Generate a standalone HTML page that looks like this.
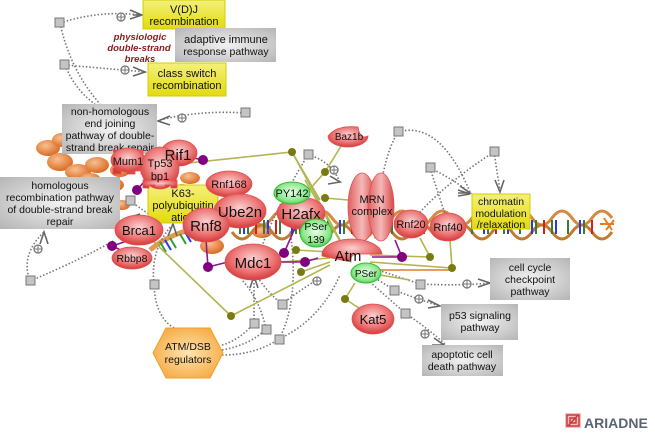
<!DOCTYPE html>
<html><head><meta charset="utf-8">
<style>
html,body{margin:0;padding:0;background:#fff;width:655px;height:438px;overflow:hidden}
svg{display:block}
text{font-family:"Liberation Sans",sans-serif;fill:#111}
</style></head><body>
<svg width="655" height="438" viewBox="0 0 655 438" xmlns="http://www.w3.org/2000/svg">
<defs>
<radialGradient id="rg" cx="50%" cy="40%" r="60%"><stop offset="0" stop-color="#fbd0d0"/><stop offset="0.6" stop-color="#ec7878"/><stop offset="1" stop-color="#d63a3a"/></radialGradient>
<linearGradient id="rl" x1="0" y1="0" x2="1" y2="0"><stop offset="0" stop-color="#e06060"/><stop offset="0.5" stop-color="#f6b8b8"/><stop offset="1" stop-color="#d84848"/></linearGradient>
<radialGradient id="gg" cx="50%" cy="45%" r="60%"><stop offset="0" stop-color="#e8ffe8"/><stop offset="0.7" stop-color="#8ae68a"/><stop offset="1" stop-color="#3cc03c"/></radialGradient>
<radialGradient id="bg" cx="50%" cy="50%" r="70%"><stop offset="0" stop-color="#f2f2f2"/><stop offset="1" stop-color="#b5b5b5"/></radialGradient>
<linearGradient id="yg" x1="0" y1="0" x2="0" y2="1"><stop offset="0" stop-color="#f4f07a"/><stop offset="1" stop-color="#e2da10"/></linearGradient>
<radialGradient id="og" cx="50%" cy="50%" r="60%"><stop offset="0" stop-color="#fde4b0"/><stop offset="1" stop-color="#f6a840"/></radialGradient>
<radialGradient id="ob" cx="40%" cy="35%" r="70%"><stop offset="0" stop-color="#f8c090"/><stop offset="1" stop-color="#d9651c"/></radialGradient>
</defs>

<!-- orange blobs -->
<g fill="url(#ob)">
<ellipse cx="48" cy="148" rx="12" ry="8"/><ellipse cx="60" cy="162" rx="13" ry="9"/><ellipse cx="78" cy="172" rx="13" ry="8"/>
<ellipse cx="97" cy="165" rx="12" ry="8"/><ellipse cx="62" cy="140" rx="10" ry="7"/><ellipse cx="90" cy="180" rx="11" ry="7"/>
<ellipse cx="112" cy="185" rx="12" ry="7"/><ellipse cx="120" cy="170" rx="10" ry="7"/><ellipse cx="190" cy="178" rx="10" ry="6"/>
<ellipse cx="182" cy="190" rx="9" ry="6"/><ellipse cx="122" cy="205" rx="8" ry="5"/><ellipse cx="262" cy="232" rx="10" ry="6"/>
<ellipse cx="255" cy="217" rx="8" ry="5"/><ellipse cx="212" cy="246" rx="12" ry="8"/>
</g>

<!-- DNA helix -->
<g fill="none" stroke-width="3" stroke="#d48a40">
<path d="M232,218 q10,-14 20,0 t20,0 t20,0 t20,0 t20,0 t20,0 t20,0 t20,0 t20,0 t20,0 t20,0 t20,0 t20,0 t20,0 t20,0 t20,0 t20,0 t20,0 t20,0"/>
<path d="M232,232 q10,14 20,0 t20,0 t20,0 t20,0 t20,0 t20,0 t20,0 t20,0 t20,0 t20,0 t20,0 t20,0 t20,0 t20,0 t20,0 t20,0 t20,0 t20,0 t20,0" stroke="#c27a30"/>
<path d="M150,250 q30,-25 80,-25" stroke="#e09a50" stroke-width="5"/>
<path d="M370,270 L455,270" stroke="#e0a060" stroke-width="2"/>
</g>
<g stroke-width="2">
<path d="M240,220v14M248,220v14M264,220v14M280,220v14M296,220v14M312,220v14M328,220v14M344,220v14M360,220v14M376,220v14M392,220v14M408,220v14M424,220v14M440,220v14M456,220v14M472,220v14M488,220v14M504,220v14M520,220v14M536,220v14M552,220v14M568,220v14M584,220v14" stroke="#3a7a3a"/>
<path d="M244,220v14M268,220v14M292,220v14M316,220v14M340,220v14M364,220v14M388,220v14M412,220v14M436,220v14M460,220v14M484,220v14M508,220v14M532,220v14M556,220v14M580,220v14" stroke="#2a3ae0"/>
<path d="M256,220v14M276,220v14M300,220v14M324,220v14M352,220v14M400,220v14M448,220v14M496,220v14M544,220v14M592,220v14" stroke="#d02020"/>
<path d="M160,242l6,10M170,238l6,10M180,234l6,10M190,231l6,10M200,229l6,10M210,227l6,10" stroke="#30a030"/>
<path d="M165,240l6,10M185,232l6,10M205,228l6,10" stroke="#2a3ae0"/>
</g>
<path d="M600,224 l14,0 M604,218 l8,12 M606,230l8,-10" stroke="#e08020" stroke-width="2"/>

<!-- dotted connectors -->
<g fill="none" stroke="#777" stroke-width="1.6" stroke-dasharray="1.5 2">
<path d="M60,23 Q100,10 140,15"/><path d="M60,23 Q70,70 100,104"/>
<path d="M65,65 Q100,68 146,72"/><path d="M65,65 Q75,90 95,104"/>
<path d="M245,113 Q200,110 160,120"/>
<path d="M30,281 Q20,255 44,232"/><path d="M30,281 Q80,260 115,240"/>
<path d="M130,201 L150,215"/>
<path d="M154,284 Q150,250 172,225"/><path d="M154,284 Q155,320 178,330"/>
<path d="M308,155 Q330,160 340,182"/><path d="M308,155 Q280,200 262,246"/>
<path d="M398,132 Q440,120 470,192"/><path d="M398,132 Q380,160 375,240"/>
<path d="M430,168 Q455,180 470,193"/><path d="M430,168 L445,214"/>
<path d="M494,152 L500,191"/><path d="M494,152 Q450,180 420,212"/>
<path d="M420,284 Q460,286 490,283"/><path d="M420,284 L372,268"/>
<path d="M394,290 Q420,300 440,306"/><path d="M394,290 L372,276"/>
<path d="M405,313 Q430,330 445,344"/><path d="M405,313 L370,282"/>
<path d="M254,323 L254,277"/><path d="M222,345 Q240,340 254,323"/>
<path d="M266,329 Q260,300 242,280"/><path d="M222,350 Q250,345 266,329"/>
<path d="M279,339 Q300,300 290,230"/><path d="M222,355 Q255,355 279,339"/>
<path d="M282,304 Q300,290 320,278"/><path d="M282,304 Q270,295 258,278"/>
<path d="M279,339 Q320,320 340,275"/>
</g>
<g fill="none" stroke="#666" stroke-width="1.6">
<path d="M130,10 l12,5 l-12,4 M133,15h9"/><path d="M133,67 l12,5 l-12,4"/>
<path d="M170,116 l-12,5 l12,4"/><path d="M40,244 l4,-12 l4,12"/>
<path d="M168,236 l5,-12 l4,12"/><path d="M250,288 l4,-12 l4,12"/>
<path d="M330,176 l10,6 l-12,2"/><path d="M460,186 l10,7 l-12,0"/>
<path d="M458,190 l12,4 l-12,2"/><path d="M495,180 l5,12 l4,-12"/>
<path d="M478,279 l12,4 l-12,4"/><path d="M428,300 l12,6 l-12,2"/><path d="M434,338 l10,7 l-12,0"/>
</g>
<g fill="#fff" stroke="#777" stroke-width="1.3">
<circle cx="121" cy="17" r="4"/><circle cx="125" cy="70" r="4"/><circle cx="182" cy="118" r="4"/>
<circle cx="38" cy="249" r="4"/><circle cx="334" cy="170" r="4"/><circle cx="467" cy="284" r="4"/>
<circle cx="419" cy="299" r="4"/><circle cx="425" cy="334" r="4"/><circle cx="317" cy="281" r="4"/>
</g>
<g stroke="#777" stroke-width="1">
<path d="M117,17h8M121,13v8M121,70h8M125,66v8M178,118h8M182,114v8M34,249h8M38,245v8M330,170h8M334,166v8M463,284h8M467,280v8M415,299h8M419,295v8M421,334h8M425,330v8M313,281h8M317,277v8"/>
</g>

<!-- olive connectors -->
<g fill="none" stroke="#b4b450" stroke-width="1.6">
<path d="M170,165 L292,152 L340,240"/><path d="M343,143 L325,172 L300,200"/>
<path d="M325,198 L348,200"/><path d="M231,316 L150,238"/><path d="M231,316 L330,265"/>
<path d="M296,250 L330,252"/><path d="M301,272 L330,262"/><path d="M282,262 L330,258"/>
<path d="M370,255 L430,257 L420,238"/><path d="M370,262 L452,268 L450,240"/>
<path d="M345,299 L355,283"/><path d="M345,299 L362,310"/>
<path d="M410,280 L380,275"/><path d="M292,152 L320,200"/><path d="M305,180 L345,250"/>
</g>
<g fill="#7a7a12">
<circle cx="292" cy="152" r="4"/><circle cx="325" cy="172" r="4"/><circle cx="325" cy="198" r="4"/>
<circle cx="231" cy="316" r="4"/><circle cx="296" cy="250" r="4"/><circle cx="301" cy="272" r="4"/>
<circle cx="430" cy="257" r="4"/><circle cx="452" cy="268" r="4"/><circle cx="345" cy="299" r="4"/>
</g>

<!-- purple connectors -->
<g fill="none" stroke="#8a1a8a" stroke-width="1.6">
<path d="M180,155 L203,160"/><path d="M150,175 L137,190"/><path d="M130,240 L112,246 L125,252"/>
<path d="M206,240 L208,267 L228,262"/><path d="M280,262 L305,262 L318,258"/>
<path d="M372,257 L402,257 L395,240"/><path d="M284,253 L295,228"/>
</g>
<g fill="#800080">
<circle cx="203" cy="160" r="5"/><circle cx="137" cy="190" r="5"/><circle cx="112" cy="246" r="5"/>
<circle cx="208" cy="267" r="5"/><circle cx="305" cy="262" r="5"/><circle cx="402" cy="257" r="5"/><circle cx="284" cy="253" r="5"/>
</g>

<g fill="#c4c4c4" stroke="#777" stroke-width="1">
<rect x="55" y="18" width="9" height="9"/><rect x="60" y="60" width="9" height="9"/><rect x="241" y="108" width="9" height="9"/>
<rect x="26" y="276" width="9" height="9"/><rect x="126" y="196" width="9" height="9"/><rect x="150" y="280" width="9" height="9"/>
<rect x="304" y="150" width="9" height="9"/><rect x="394" y="127" width="9" height="9"/><rect x="426" y="163" width="9" height="9"/>
<rect x="490" y="147" width="9" height="9"/><rect x="416" y="280" width="9" height="9"/><rect x="390" y="286" width="9" height="9"/>
<rect x="401" y="309" width="9" height="9"/><rect x="250" y="319" width="9" height="9"/><rect x="262" y="325" width="9" height="9"/>
<rect x="275" y="335" width="9" height="9"/><rect x="278" y="300" width="9" height="9"/>
</g>
<path d="M128,218 l12,-4" stroke="#555" stroke-width="1.5"/>

<!-- boxes -->
<rect x="143" y="0" width="82" height="29" fill="url(#yg)" stroke="#d4cc00"/>
<text x="184" y="13" font-size="11" text-anchor="middle">V(D)J</text><text x="184" y="25" font-size="11" text-anchor="middle">recombination</text>
<rect x="175" y="28" width="101" height="34" fill="url(#bg)"/>
<text x="226" y="43" font-size="11" text-anchor="middle">adaptive immune</text><text x="226" y="55" font-size="10.5" text-anchor="middle">response pathway</text>
<g font-size="9.5" font-weight="bold" font-style="italic" text-anchor="middle"><text x="140" y="40" style="fill:#8b1a1a">physiologic</text><text x="139" y="51" style="fill:#8b1a1a">double-strand</text><text x="140" y="62" style="fill:#8b1a1a">breaks</text></g>
<rect x="148" y="63" width="78" height="33" fill="url(#yg)" stroke="#d4cc00"/>
<text x="187" y="77" font-size="11" text-anchor="middle">class switch</text><text x="187" y="89" font-size="11" text-anchor="middle">recombination</text>
<rect x="62" y="104" width="95" height="50" fill="url(#bg)"/>
<g font-size="10.5" text-anchor="middle"><text x="110" y="115">non-homologous</text><text x="110" y="127">end joining</text><text x="110" y="139">pathway of double-</text><text x="110" y="151">strand break repair</text></g>
<rect x="0" y="177" width="120" height="52" fill="url(#bg)"/>
<g font-size="10.5" text-anchor="middle"><text x="60" y="189">homologous</text><text x="60" y="201">recombination pathway</text><text x="60" y="213">of double-strand break</text><text x="60" y="225">repair</text></g>

<rect x="148" y="185" width="70" height="38" fill="url(#yg)" stroke="#d4cc00"/>
<g font-size="11" text-anchor="middle"><text x="183" y="197">K63-</text><text x="183" y="209">polyubiquitin</text><text x="183" y="221">ation</text></g>

<!-- MRN complex -->
<g fill="url(#rl)" stroke="#e05050" stroke-width="0.8">
<ellipse cx="362" cy="207" rx="14" ry="34"/>
<ellipse cx="381" cy="207" rx="13" ry="34"/>
</g>

<!-- red nodes -->
<g fill="url(#rg)" stroke="#e05050" stroke-width="0.8">
<ellipse cx="179" cy="153" rx="18" ry="13"/>
<path d="M113,150 h30 v18 h6 v6 h-8 v-3 h-6 v3 h-8 v-3 h-6 v3 h-8 v-6 h6 z" />
<ellipse cx="128" cy="160" rx="17" ry="12"/>
<ellipse cx="160" cy="168" rx="19" ry="21"/>
<path d="M143,180 h34 v8 h-6 v-3 h-6 v3 h-10 v-3 h-6 v3 h-6 z"/>
<ellipse cx="229" cy="184" rx="23" ry="13"/>
<ellipse cx="240" cy="211" rx="26" ry="17"/>
<ellipse cx="206" cy="225" rx="23" ry="17"/>
<ellipse cx="139" cy="230" rx="24" ry="15"/>
<ellipse cx="132" cy="258" rx="20" ry="11"/>
<ellipse cx="253" cy="262" rx="28" ry="18"/>
<ellipse cx="301" cy="213" rx="24" ry="16"/>
<path d="M322,256 a30,16 0 1,1 60,-2 h-25 a6,6 0 0,0 -6,8 z"/>
<path d="M328,136 a20,11 0 1,0 40,0 q-8,4 -10,-9 q-22,-2 -30,9z"/>
<ellipse cx="411" cy="224" rx="17" ry="14"/>
<ellipse cx="448" cy="227" rx="18" ry="14"/>
<ellipse cx="373" cy="319" rx="21" ry="15"/>
</g>
<g text-anchor="middle">
<text x="178" y="160" font-size="15">Rif1</text>
<text x="128" y="165" font-size="11">Mum1</text>
<text x="160" y="167" font-size="11">Tp53</text><text x="160" y="180" font-size="11">bp1</text>
<text x="229" y="188" font-size="11">Rnf168</text>
<text x="240" y="217" font-size="15">Ube2n</text>
<text x="206" y="231" font-size="15">Rnf8</text>
<text x="139" y="235" font-size="13">Brca1</text>
<text x="132" y="262" font-size="10.5">Rbbp8</text>
<text x="253" y="268" font-size="15">Mdc1</text>
<text x="301" y="219" font-size="15">H2afx</text>
<text x="348" y="261" font-size="15">Atm</text>
<text x="349" y="140" font-size="10">Baz1b</text>
<text x="372" y="203" font-size="11">MRN</text><text x="372" y="215" font-size="11">complex</text>
<text x="411" y="228" font-size="11">Rnf20</text>
<text x="448" y="231" font-size="11">Rnf40</text>
<text x="373" y="324" font-size="13">Kat5</text>
</g>

<g fill="url(#gg)" stroke="#30c030" stroke-width="1">
<ellipse cx="292" cy="193" rx="18" ry="11"/>
<ellipse cx="316" cy="233" rx="16" ry="14"/>
<ellipse cx="366" cy="273" rx="15" ry="10"/>
</g>
<g text-anchor="middle">
<text x="292" y="197" font-size="11">PY142</text>
<text x="316" y="230" font-size="10.5">PSer</text><text x="316" y="243" font-size="10.5">139</text>
<text x="366" y="277" font-size="10">PSer</text>
</g>

<rect x="472" y="194" width="58" height="35" fill="url(#yg)" stroke="#d4cc00"/>
<g font-size="10.5" text-anchor="middle"><text x="501" y="205">chromatin</text><text x="501" y="217">modulation</text><text x="501" y="228">/relaxation</text></g>

<rect x="490" y="258" width="80" height="42" fill="url(#bg)"/>
<g font-size="10.5" text-anchor="middle"><text x="530" y="271">cell cycle</text><text x="530" y="283">checkpoint</text><text x="530" y="295">pathway</text></g>
<rect x="441" y="304" width="77" height="36" fill="url(#bg)"/>
<g font-size="10.5" text-anchor="middle"><text x="480" y="319">p53 signaling</text><text x="480" y="331">pathway</text></g>
<rect x="422" y="345" width="81" height="31" fill="url(#bg)"/>
<g font-size="10.5" text-anchor="middle"><text x="462" y="358">apoptotic cell</text><text x="462" y="370">death pathway</text></g>

<polygon points="153,353 166,328 210,328 223,353 210,378 166,378" fill="url(#og)" stroke="#f0a020" stroke-width="1"/>
<g font-size="10.5" text-anchor="middle"><text x="188" y="350">ATM/DSB</text><text x="188" y="363">regulators</text></g>

<g transform="translate(565,413)">
<rect x="0" y="0" width="16" height="15" fill="#f2c0c0"/>
<path d="M2,2 h12 v11 h-12 z M5,5 h6 v5 h-6z M3,13 L13,2" fill="none" stroke="#d03838" stroke-width="1.5"/>
</g>
<text x="584" y="428" font-size="14" font-weight="bold" style="fill:#5a6470">ARIADNE</text>
</svg>
</body></html>
